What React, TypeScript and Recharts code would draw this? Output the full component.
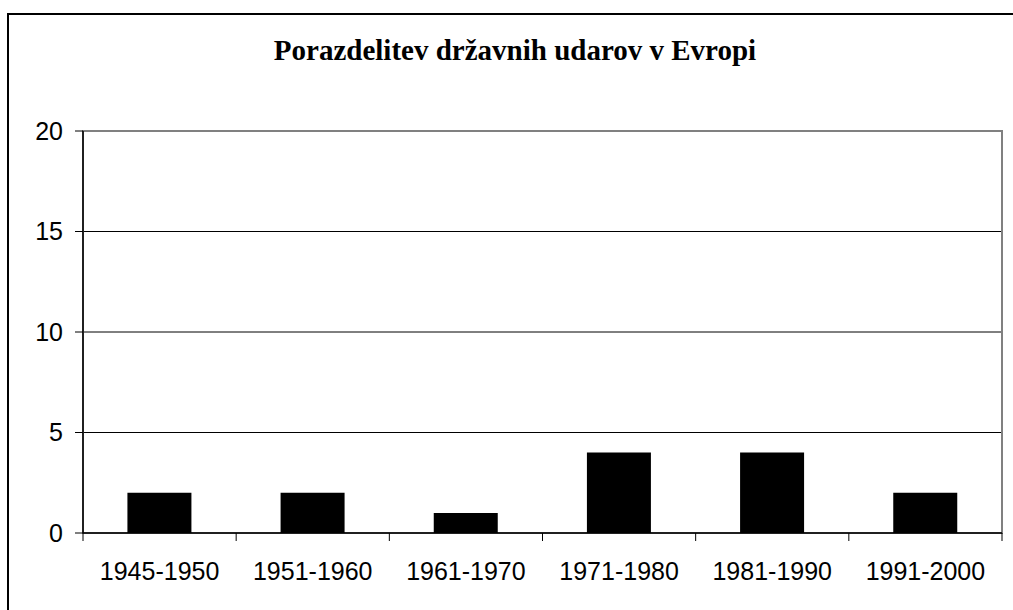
import { Bar, BarChart, CartesianGrid, ReferenceArea, XAxis, YAxis } from 'recharts';

const periods = ['1945-1950', '1951-1960', '1961-1970', '1971-1980', '1981-1990', '1991-2000'];
const coups = [2, 2, 1, 4, 4, 2];
const yTicks = [0, 5, 10, 15, 20];

const data = periods.map((period, i) => ({ period, coups: coups[i] }));

const FONT = '"Liberation Sans", Arial, sans-serif';

function PeriodTick(props: any) {
  const { x, y, payload, index } = props;
  const half = payload?.offset ?? 76.6;
  return (
    <g>
      <line x1={x - half} y1={y - 8} x2={x - half} y2={y} stroke="#000" strokeWidth={1} />
      {index === periods.length - 1 && (
        <line x1={x + half} y1={y - 8} x2={x + half} y2={y} stroke="#000" strokeWidth={1} />
      )}
      <text x={x} y={y + 39} textAnchor="middle" fontSize={25} fontFamily={FONT} fill="#000">
        {payload.value}
      </text>
    </g>
  );
}

export default function App() {
  return (
    <div
      style={{
        position: 'absolute',
        left: 0,
        top: 0,
        width: 1013,
        height: 610,
        overflow: 'hidden',
        background: '#fff',
      }}
    >
      <div
        style={{
          position: 'absolute',
          left: 7,
          top: 13,
          width: 1100,
          height: 700,
          border: '2px solid #000',
        }}
      />
      <div
        style={{
          position: 'absolute',
          left: 0,
          width: 1030,
          top: 34,
          lineHeight: '33px',
          textAlign: 'center',
          fontFamily: '"Liberation Serif", "Times New Roman", serif',
          fontWeight: 'bold',
          fontSize: 29,
        }}
      >
        Porazdelitev državnih udarov v Evropi
      </div>
      <div style={{ position: 'absolute', left: 0, top: 0 }}>
        <BarChart
          width={1013}
          height={610}
          data={data}
          margin={{ top: 131, right: 11, bottom: 37, left: 0 }}
          barCategoryGap="29%"
        >
          <CartesianGrid vertical={false} stroke="#000" strokeWidth={1} />
          <ReferenceArea y1={0} y2={20} fill="none" stroke="#808080" strokeWidth={2} />
          <XAxis
            dataKey="period"
            height={40}
            axisLine={{ stroke: '#000', strokeWidth: 1.5 }}
            tickLine={false}
            tick={<PeriodTick />}
            interval={0}
          />
          <YAxis
            width={83}
            domain={[0, 20]}
            ticks={yTicks}
            interval={0}
            axisLine={{ stroke: '#000', strokeWidth: 1.5 }}
            tickLine={{ stroke: '#000' }}
            tickSize={8}
            tickMargin={12}
            tick={{ fontSize: 25, fontFamily: FONT, fill: '#000' }}
          />
          <Bar dataKey="coups" fill="#000" isAnimationActive={false} />
        </BarChart>
      </div>
    </div>
  );
}
